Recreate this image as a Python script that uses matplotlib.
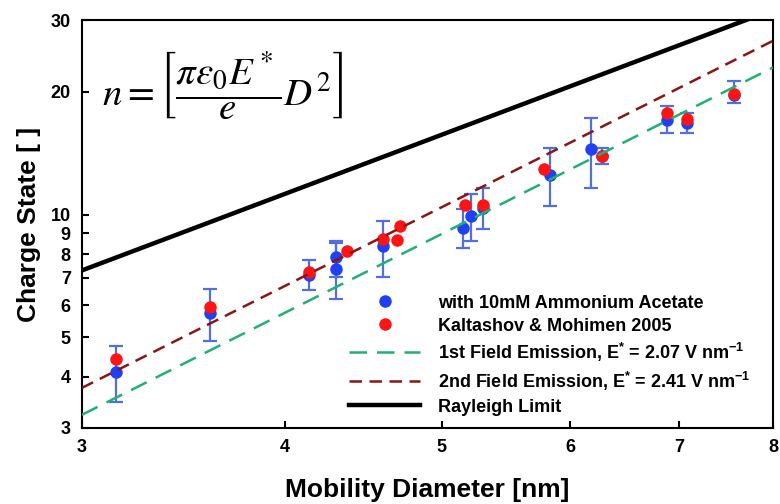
import numpy as np
import matplotlib
matplotlib.use("Agg")
import matplotlib.pyplot as plt
from matplotlib.ticker import FixedLocator, NullLocator, FixedFormatter

plt.rcParams['font.family'] = ['Liberation Sans', 'DejaVu Sans']
plt.rcParams['mathtext.fontset'] = 'custom'
plt.rcParams['mathtext.rm'] = 'Liberation Sans:bold'
plt.rcParams['mathtext.it'] = 'Liberation Sans:bold'
plt.rcParams['mathtext.bf'] = 'Liberation Sans:bold'

# this work: 10 mM ammonium acetate (with error bars)
blue_d = [3.15, 3.60, 4.14, 4.30, 4.30, 4.60, 5.15, 5.21, 5.30, 5.83, 6.18, 6.28, 6.88, 7.08, 7.57]
blue_n = [4.12, 5.73, 7.11, 7.89, 7.36, 8.38, 9.26, 9.92, 10.4, 12.5, 14.46, 13.9, 17.07, 16.74, 19.66]
blue_lo = [3.47, 4.90, 6.54, 7.02, 6.20, 7.02, 8.27, 8.63, 9.21, 10.5, 11.6, 13.29, 15.9, 15.9, 18.75]
blue_hi = [4.77, 6.57, 7.74, 8.62, 8.50, 9.67, 10.31, 11.24, 11.6, 14.55, 17.3, 14.55, 18.5, 17.78, 21.3]

# Kaltashov & Mohimen 2005
red_d = [3.15, 3.60, 4.14, 4.37, 4.60, 4.69, 4.71, 5.17, 5.30, 5.78, 6.28, 6.88, 7.08, 7.57]
red_n = [4.42, 5.93, 7.25, 8.16, 8.70, 8.67, 9.38, 10.56, 10.56, 12.92, 13.93, 17.78, 17.16, 19.8]

# model lines (straight on log-log axes, end points only)
line_d = [3.0, 8.0]
fe1_n = [3.23, 22.97]
fe2_n = [3.76, 26.7]
rayleigh_n = [7.3, 31.8]

x_ticks = [3, 4, 5, 6, 7, 8]
y_ticks = [3, 4, 5, 6, 7, 8, 9, 10, 20, 30]

fig = plt.figure(figsize=(7.8, 5.04), dpi=100)
ax = fig.add_axes([0.105, 0.151, 0.886, 0.809])
ax.set_xscale('log')
ax.set_yscale('log')

blue = '#1f40f5'
red = '#ff1414'

yerr = [np.array(blue_n) - np.array(blue_lo), np.array(blue_hi) - np.array(blue_n)]
ax.errorbar(blue_d, blue_n, yerr=yerr, fmt='none', ecolor='#5070e0',
            elinewidth=1.6, capsize=5, capthick=1.6, zorder=2)
ax.plot(blue_d, blue_n, 'o', color=blue, ms=9, mec='none', zorder=3,
        label='with 10mM Ammonium Acetate')
ax.plot(red_d, red_n, 'o', color=red, ms=9, mec='none', zorder=4,
        label='Kaltashov & Mohimen 2005')
ax.plot(line_d, fe1_n, color='#1fb072', lw=1.8, dashes=(7, 4), zorder=5,
        label=r'1st Field Emission, E$^{*}$ = 2.07 V nm$^{-1}$')
ax.plot(line_d, fe2_n, color='#8b1414', lw=1.8, dashes=(5, 3), zorder=5,
        label=r'2nd Field Emission, E$^{*}$ = 2.41 V nm$^{-1}$')
ax.plot(line_d, rayleigh_n, color='black', lw=3.2, zorder=5, label='Rayleigh Limit')

ax.set_xlim(3, 8)
ax.set_ylim(3, 30)
ax.xaxis.set_major_locator(FixedLocator(x_ticks))
ax.xaxis.set_major_formatter(FixedFormatter([str(v) for v in x_ticks]))
ax.xaxis.set_minor_locator(NullLocator())
ax.yaxis.set_major_locator(FixedLocator(y_ticks))
ax.yaxis.set_major_formatter(FixedFormatter([str(v) for v in y_ticks]))
ax.yaxis.set_minor_locator(NullLocator())
ax.tick_params(direction='in', length=5, width=1.5, labelsize=13, pad=8)
for lab in ax.get_xticklabels() + ax.get_yticklabels():
    lab.set_fontweight('bold')
for s in ax.spines.values():
    s.set_linewidth(1.5)

ax.set_xlabel('Mobility Diameter [nm]', fontsize=19, fontweight='bold', labelpad=16)
ax.set_ylabel('Charge State [ ]', fontsize=19, fontweight='bold', labelpad=7)

ax.text(0.203, 0.838, r'$n=\left[\dfrac{\pi\varepsilon_0 E^*}{e}D^2\right]$',
        transform=ax.transAxes, ha='center', va='center', fontsize=28,
        math_fontfamily='stix')

leg = ax.legend(loc='lower left', bbox_to_anchor=(0.387, 0.03), frameon=False,
                prop={'size': 13, 'weight': 'bold'}, handlelength=3.9,
                handletextpad=1.0, labelspacing=0.33, borderpad=0, borderaxespad=0)

plt.savefig('out.png', dpi=100)
